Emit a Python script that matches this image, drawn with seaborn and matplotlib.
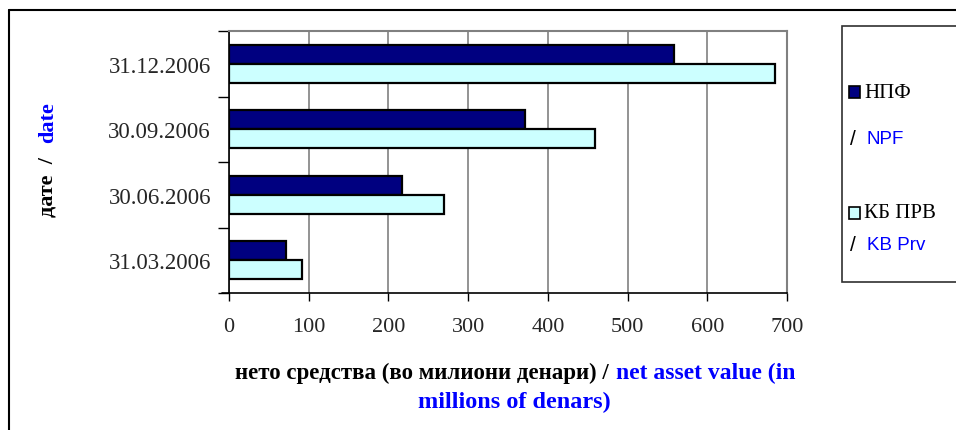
import seaborn as sns
import pandas as pd
from matplotlib import pyplot as plt
from matplotlib.patches import Rectangle
from matplotlib.lines import Line2D

# data
dates = ['31.12.2006', '30.09.2006', '30.06.2006', '31.03.2006']
npf = [558, 371, 217, 72]
kb_prv = [685, 459, 270, 91]
series = ['НПФ', 'КБ ПРВ']
series_en = ['NPF', 'KB Prv']
colors = ['#000080', '#CCFFFF']
x_ticks = [0, 100, 200, 300, 400, 500, 600, 700]

df = pd.DataFrame({
    'date': dates * 2,
    'value': npf + kb_prv,
    'series': [series[0]] * len(dates) + [series[1]] * len(dates),
})

sns.set_style('white')
plt.rcParams['font.family'] = ['Liberation Serif', 'DejaVu Serif']

fig = plt.figure(figsize=(9.56, 4.31), dpi=100)
ax = fig.add_axes([229 / 956, 1 - 294 / 431, (787 - 229) / 956, (294 - 32) / 431])

sns.barplot(data=df, x='value', y='date', hue='series', order=dates, hue_order=series,
            palette=dict(zip(series, colors)), orient='h', width=0.58, dodge=True,
            edgecolor='black', linewidth=1.6, saturation=1, legend=False, ax=ax, zorder=3)

ax.set_xlim(0, 700)
ax.set_ylim(len(dates) - 0.5, -0.5)
ax.set_xticks(x_ticks)
ax.set_xticklabels([str(t) for t in x_ticks])
ax.xaxis.grid(True, color='#808080', linewidth=1.2, zorder=0)
ax.yaxis.grid(False)
ax.set_xlabel('')
ax.set_ylabel('')

# category ticks sit between groups, labels in the middle
ax.set_yticks([i - 0.5 for i in range(len(dates) + 1)], minor=True)
ax.tick_params(axis='y', which='major', length=0, pad=13, labelsize=16.5)
ax.tick_params(axis='y', which='minor', length=8, width=1, color='black', direction='out', left=True)
ax.tick_params(axis='x', which='major', length=6, width=1, color='black', direction='out',
               bottom=True, pad=11, labelsize=16)

for side in ['top', 'right']:
    ax.spines[side].set_color('#808080')
    ax.spines[side].set_linewidth(1.5)
for side in ['left', 'bottom']:
    ax.spines[side].set_color('black')
    ax.spines[side].set_linewidth(1.2)
ax.plot([-0.013, 0], [0, 0], transform=ax.transAxes, color='black', lw=1.2, clip_on=False)

# axis titles, two colours
fig.text(609 / 956, 1 - 373 / 431, 'нето средства (во милиони денари) /', ha='right', va='center',
         fontsize=16.5, fontweight='bold', color='black')
fig.text(616 / 956, 1 - 373 / 431, 'net asset value (in', ha='left', va='center',
         fontsize=17, fontweight='bold', color='#0000FF')
fig.text(514 / 956, 1 - 402 / 431, 'millions of denars)', ha='center', va='center',
         fontsize=17.5, fontweight='bold', color='#0000FF')

fig.text(48 / 956, 1 - 217 / 431, 'дате  /', rotation=90, ha='center', va='bottom',
         fontsize=16, fontweight='bold', color='black')
fig.text(48 / 956, 1 - 143 / 431, 'date', rotation=90, ha='center', va='bottom',
         fontsize=16, fontweight='bold', color='#0000FF')

# legend box
fig.add_artist(Rectangle((842 / 956, 1 - 283 / 431), 0.2, (283 - 27) / 431, transform=fig.transFigure,
                         facecolor='white', edgecolor='#303030', linewidth=1.2))
legend_rows = [93, 214]
legend_sub = [140, 246]
for name, name_en, col, ry, sy in zip(series, series_en, colors, legend_rows, legend_sub):
    fig.add_artist(Rectangle((849 / 956, 1 - (ry + 6) / 431), 11 / 956, 12 / 431,
                             transform=fig.transFigure, facecolor=col, edgecolor='black', linewidth=1.2))
    fig.text(864 / 956, 1 - ry / 431, name, ha='left', va='center', fontsize=15, color='black')
    fig.text(850 / 956, 1 - sy / 431, '/', ha='left', va='center', fontsize=15, color='black',
             family='Liberation Sans')
    fig.text(867 / 956, 1 - sy / 431, name_en, ha='left', va='center', fontsize=13.5, color='#0000FF',
             family='Liberation Sans')

# outer frame
fig.add_artist(Line2D([9 / 956, 9 / 956], [0, 1 - 11 / 431], transform=fig.transFigure,
                      color='black', linewidth=1.5))
fig.add_artist(Line2D([9 / 956, 1], [1 - 11 / 431, 1 - 11 / 431], transform=fig.transFigure,
                      color='black', linewidth=1.5))

fig.savefig('out.png', dpi=100)
